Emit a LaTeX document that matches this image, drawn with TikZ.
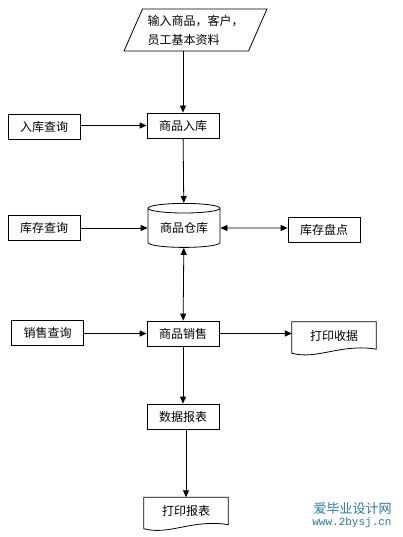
\documentclass[tikz,border=0pt]{standalone}
\usepackage{fontspec}
\setmainfont{Noto Sans CJK SC}
\newfontfamily\wmmono{Liberation Mono}
\usepackage{xcolor}
\usepackage{tikz}
\usetikzlibrary{positioning,shapes.geometric,arrows.meta}
\definecolor{wmblue}{RGB}{40,120,160}

\newcommand\docoutline[1]{\draw[thick] (#1.north west) -- ([yshift=-4pt]#1.south west) .. controls ([xshift=25pt,yshift=-11pt]#1.south west) and ([xshift=-35pt,yshift=6pt]#1.south east) .. (#1.south east) -- (#1.north east) -- cycle;}

\begin{document}
\begin{tikzpicture}[x=1pt, y=-1pt, >={Triangle[length=7pt,width=6pt]},
  boxnode/.style={rectangle, draw, thick, minimum width=72pt, minimum height=25pt, inner sep=0pt, font=\fontsize{12}{14}\selectfont},
  docnode/.style={rectangle, minimum width=84pt, minimum height=27pt, inner sep=0pt, font=\fontsize{12}{14}\selectfont},
  dbnode/.style={cylinder, shape border rotate=90, draw, thick, aspect=0.2, minimum width=72pt, minimum height=44pt, inner sep=0pt, font=\fontsize{12}{14}\selectfont},
  ionode/.style={trapezium, trapezium left angle=61, trapezium right angle=119, trapezium stretches=true, draw, thick, minimum width=143pt, minimum height=42pt, inner sep=0pt, align=left, font=\fontsize{12}{19}\selectfont}]
\useasboundingbox (0,0) rectangle (402,537);

\node[ionode] at (195.5, 30) (in) {输入商品，客户，\\员工基本资料};
\node[boxnode] at (183, 125.5) (rk) {商品入库};
\node[boxnode] at (44, 127) (rkcx) {入库查询};
\node[dbnode] at (184, 228) (ck) {商品仓库};
\node[boxnode] at (44, 228) (ckcx) {库存查询};
\node[boxnode] at (324, 229.5) (pd) {库存盘点};
\node[boxnode] at (183, 333.5) (xs) {商品销售};
\node[boxnode] at (47.5, 332.5) (xscx) {销售查询};
\node[docnode] at (334, 335.5) (sj) {打印收据};
\node[boxnode] at (183, 416.5) (bb) {数据报表};
\node[docnode] at (186, 511) (dy) {打印报表};
\docoutline{sj}
\docoutline{dy}

\draw[thick, ->] (in.south -| rk.north) -- (rk.north);
\draw[thick, ->] (rkcx.east |- rk) -- (rk);
\draw[thick, ->] (rk) -- (ck);
\draw[thick, ->] (ckcx) -- (ck);
\draw[thick, <->] (ck) -- (pd.west |- ck);
\draw[thick, <->] (ck) -- (xs);
\draw[thick, ->] (xscx.east |- xs) -- (xs);
\draw[thick, ->] (xs.east) -- (sj.west |- xs.east);
\draw[thick, ->] (xs) -- (bb);
\draw[thick, ->] (bb.south -| dy.north) -- (dy.north);

\node[align=right, text=wmblue, inner sep=0pt, font=\fontsize{13}{12}\selectfont] at (352, 515) (wm) {爱毕业设计网\\{\wmmono\fontsize{11}{12}\selectfont www.2bysj.cn}};

\end{tikzpicture}
\end{document}
